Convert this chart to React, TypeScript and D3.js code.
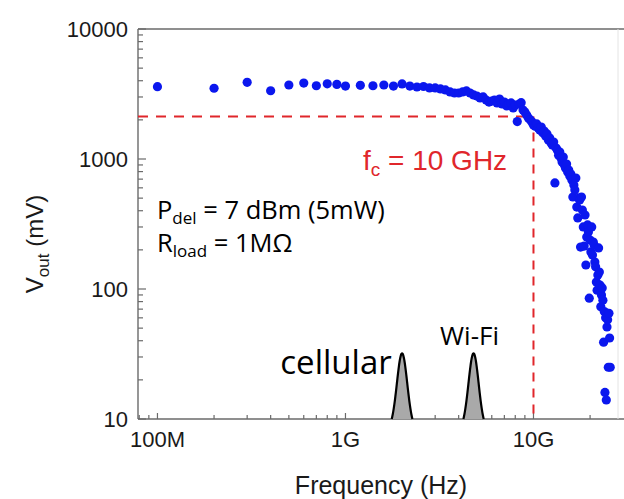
import React from "react";
import * as d3 from "d3";

const W = 624;
const H = 499;

// Measured output voltage: [frequency in GHz, Vout in mV]
const lowBandPoints: [number, number][] = [
  [0.1, 3600], [0.2, 3500], [0.3, 3890], [0.4, 3350], [0.5, 3710],
  [0.6, 3840], [0.7, 3660], [0.8, 3790], [0.9, 3750], [1.0, 3640],
];

const plateauPoints: [number, number][] = [
  [1.2, 3690], [1.4, 3660], [1.6, 3710], [1.8, 3640], [2.0, 3780],
  [2.2, 3640], [2.4, 3580], [2.6, 3610], [2.8, 3520], [3.0, 3520],
  [3.2, 3460], [3.4, 3400], [3.6, 3280], [3.8, 3220], [4.0, 3220],
  [4.2, 3280], [4.4, 3340], [4.6, 3220], [4.8, 3110], [5.0, 3050],
  [5.2, 2950], [5.4, 3000], [5.6, 2840], [5.8, 2740], [6.0, 2790],
  [6.2, 2840], [6.4, 2700], [6.6, 2890], [6.8, 2650], [7.0, 2740],
  [7.2, 2560], [7.4, 2650], [7.6, 2700], [7.8, 2470], [8.0, 2600],
  [8.2, 1940], [8.4, 2650], [8.6, 2710], [8.8, 2380], [9.0, 2300],
  [9.2, 2180], [9.4, 2070], [9.6, 2000], [9.8, 1930], [10.0, 1830],
];

const rolloffPoints: [number, number][] = [
  [10.2, 1790], [10.4, 1860], [10.6, 1730], [10.8, 1670], [11.0, 1760],
  [11.2, 1590], [11.4, 1640], [11.6, 1500], [11.8, 1560], [12.0, 1400],
  [12.2, 1450], [12.4, 1330], [12.6, 1280], [12.8, 1350], [13.0, 654],
  [13.2, 1215], [13.4, 1170], [13.6, 1070], [13.8, 1130], [14.0, 1020],
  [14.2, 948], [14.4, 1036], [14.6, 899], [14.8, 853], [15.0, 915],
  [15.2, 794], [15.4, 823], [15.6, 740], [15.8, 767], [16.0, 690],
  [16.2, 510], [16.4, 631], [16.6, 577], [16.8, 714], [17.0, 427],
  [17.2, 352], [17.4, 501], [17.6, 484], [17.8, 210], [18.0, 510],
  [18.2, 405], [18.4, 300], [18.6, 214], [18.8, 371], [19.0, 153],
  [19.2, 251], [19.4, 311], [19.6, 274], [19.8, 85], [20.0, 238],
  [20.2, 193], [20.4, 300], [20.6, 183], [20.8, 230], [21.0, 218],
  [21.2, 161], [21.4, 148], [21.6, 113], [21.8, 98], [22.0, 128],
  [22.2, 207], [22.4, 135], [22.6, 107], [22.8, 73], [23.0, 90],
  [23.2, 102], [23.4, 82], [23.6, 39], [23.8, 67], [24.0, 16],
  [24.2, 60], [24.4, 14], [24.6, 51], [24.8, 58], [25.0, 25],
  [25.2, 65], [25.4, 42], [25.6, 25],
];

const xTickValues = [1e8, 1e9, 1e10];
const xTickLabels = ["100M", "1G", "10G"];
const yTickValues = [10, 100, 1000, 10000];
const yTickLabels = ["10", "100", "1000", "10000"];

// -3 dB level and cutoff frequency
const cutoffHz = 1e10;
const cutoffMv = 2121;

// Ambient RF bands sketched on the baseline
const bandNames = ["cellular", "Wi-Fi"];
const bandCentersHz = [2.0e9, 4.8e9];
const bandHalfDecades = [0.055, 0.054];
const bandPeakMv = [32, 32];

const margin = { left: 138, right: 619, top: 29, bottom: 419 };

const x = d3.scaleLog().domain([7.88e7, 2.85e10]).range([margin.left, margin.right]);
const y = d3.scaleLog().domain([10, 10000]).range([margin.bottom, margin.top]);

const RED = "#e0262b";
const BLUE = "#0b17ee";
const AXIS = "#6a6a6a";
const TXT = "#1a1a1a";

function logTicks(domain: [number, number]) {
  const out: { v: number; major: boolean }[] = [];
  const lo = Math.floor(Math.log10(domain[0]));
  const hi = Math.ceil(Math.log10(domain[1]));
  for (let e = lo; e <= hi; e++) {
    for (let k = 1; k <= 9; k++) {
      const v = k * Math.pow(10, e);
      if (v >= domain[0] * 0.999 && v <= domain[1] * 1.001) out.push({ v, major: k === 1 });
    }
  }
  return out;
}

function bandPath(i: number) {
  const c = Math.log10(bandCentersHz[i]);
  const hw = bandHalfDecades[i];
  const peak = Math.log10(bandPeakMv[i]);
  const base = Math.log10(10);
  const s = 0.5;
  const e1 = Math.exp(-1 / (2 * s * s));
  const pts: [number, number][] = d3.range(-1, 1.0001, 0.05).map((t) => {
    const g = (Math.exp(-(t * t) / (2 * s * s)) - e1) / (1 - e1);
    return [x(Math.pow(10, c + t * hw)), y(Math.pow(10, base + (peak - base) * g))];
  });
  return d3.line().curve(d3.curveCatmullRom)(pts) as string;
}

export default function App() {
  const allPoints = [...lowBandPoints, ...plateauPoints, ...rolloffPoints];
  const xt = logTicks(x.domain() as [number, number]);
  const yt = logTicks(y.domain() as [number, number]);
  const arial = "'Liberation Sans', Arial, sans-serif";
  const annot = "'Open Sans', 'Noto Sans', sans-serif";

  return (
    <div style={{ position: "absolute", left: 0, top: 0 }}>
      <svg width={W} height={H} viewBox={`0 0 ${W} ${H}`} style={{ display: "block", background: "#fff" }}>
        {/* frame */}
        <line x1={margin.left} x2={W} y1={margin.top} y2={margin.top} stroke={AXIS} strokeWidth={1.4} />
        <line x1={margin.left} x2={W} y1={margin.bottom} y2={margin.bottom} stroke={AXIS} strokeWidth={1.4} />
        <line x1={margin.left} x2={margin.left} y1={margin.top} y2={margin.bottom} stroke={AXIS} strokeWidth={1.4} />
        <line x1={618} x2={618} y1={margin.top} y2={margin.bottom} stroke="#e4e4e4" strokeWidth={1} />

        {/* y ticks (inward) */}
        {yt.map((t, i) => (
          <line key={"yt" + i} x1={margin.left} x2={margin.left + (t.major ? 8 : 5)}
            y1={y(t.v)} y2={y(t.v)} stroke={AXIS} strokeWidth={1.2} />
        ))}
        {/* x ticks (inward) */}
        {xt.map((t, i) => (
          <line key={"xt" + i} x1={x(t.v)} x2={x(t.v)} y1={margin.bottom}
            y2={margin.bottom - (t.major ? 6 : 4)} stroke={AXIS} strokeWidth={1.2} />
        ))}

        {/* tick labels */}
        {yTickValues.map((v, i) => (
          <text key={"yl" + i} x={128} y={y(v) + 8} textAnchor="end" fontFamily={arial}
            fontSize={22} fill={TXT}>{yTickLabels[i]}</text>
        ))}
        {xTickValues.map((v, i) => (
          <text key={"xl" + i} x={x(v)} y={447} textAnchor="middle" fontFamily={arial}
            fontSize={22} fill={TXT}>{xTickLabels[i]}</text>
        ))}

        {/* axis titles */}
        <text x={381} y={494} textAnchor="middle" fontFamily={arial} fontSize={25} fill={TXT}>
          Frequency (Hz)
        </text>
        <text transform="translate(43,244) rotate(-90)" textAnchor="middle" fontFamily={arial}
          fontSize={24} fill={TXT}>
          V<tspan fontSize={17} dy={6}>out</tspan><tspan dy={-6}> (mV)</tspan>
        </text>

        {/* cutoff guides */}
        <line x1={margin.left} x2={x(cutoffHz)} y1={y(cutoffMv)} y2={y(cutoffMv)}
          stroke={RED} strokeWidth={2} strokeDasharray="10 8" />
        <line x1={x(cutoffHz)} x2={x(cutoffHz)} y1={y(cutoffMv)} y2={margin.bottom}
          stroke={RED} strokeWidth={2} strokeDasharray="9 7" />

        {/* RF bands */}
        {bandNames.map((n, i) => (
          <path key={"band" + i} d={bandPath(i)} fill="#a9a9a9" stroke="#000" strokeWidth={2.2}
            strokeLinejoin="round" />
        ))}
        <text x={x(bandCentersHz[0] * Math.pow(10, -bandHalfDecades[0]))} y={374} textAnchor="end"
          fontFamily={annot} fontSize={33} fill="#000">{bandNames[0]}</text>
        <text x={x(bandCentersHz[1]) - 4} y={345} textAnchor="middle" fontFamily={annot}
          fontSize={26} fill="#000">{bandNames[1]}</text>

        {/* data */}
        {allPoints.map(([f, v], i) => (
          <circle key={"p" + i} cx={x(f * 1e9)} cy={y(v)} r={4.6} fill={BLUE} />
        ))}

        {/* annotations */}
        <text x={363} y={170} fontFamily={arial} fontSize={28} fill={RED}>
          f<tspan fontSize={19} dy={6}>c</tspan><tspan dy={-6}> = 10 GHz</tspan>
        </text>
        <text x={157} y={219} fontFamily={annot} fontSize={25.5} fill="#000">
          P<tspan fontSize={17} dy={5}>del</tspan><tspan dy={-5}> = 7 dBm (5mW)</tspan>
        </text>
        <text x={157} y={252} fontFamily={annot} fontSize={25.5} fill="#000">
          R<tspan fontSize={17} dy={5}>load</tspan><tspan dy={-5}> = 1MΩ</tspan>
        </text>
      </svg>
    </div>
  );
}
